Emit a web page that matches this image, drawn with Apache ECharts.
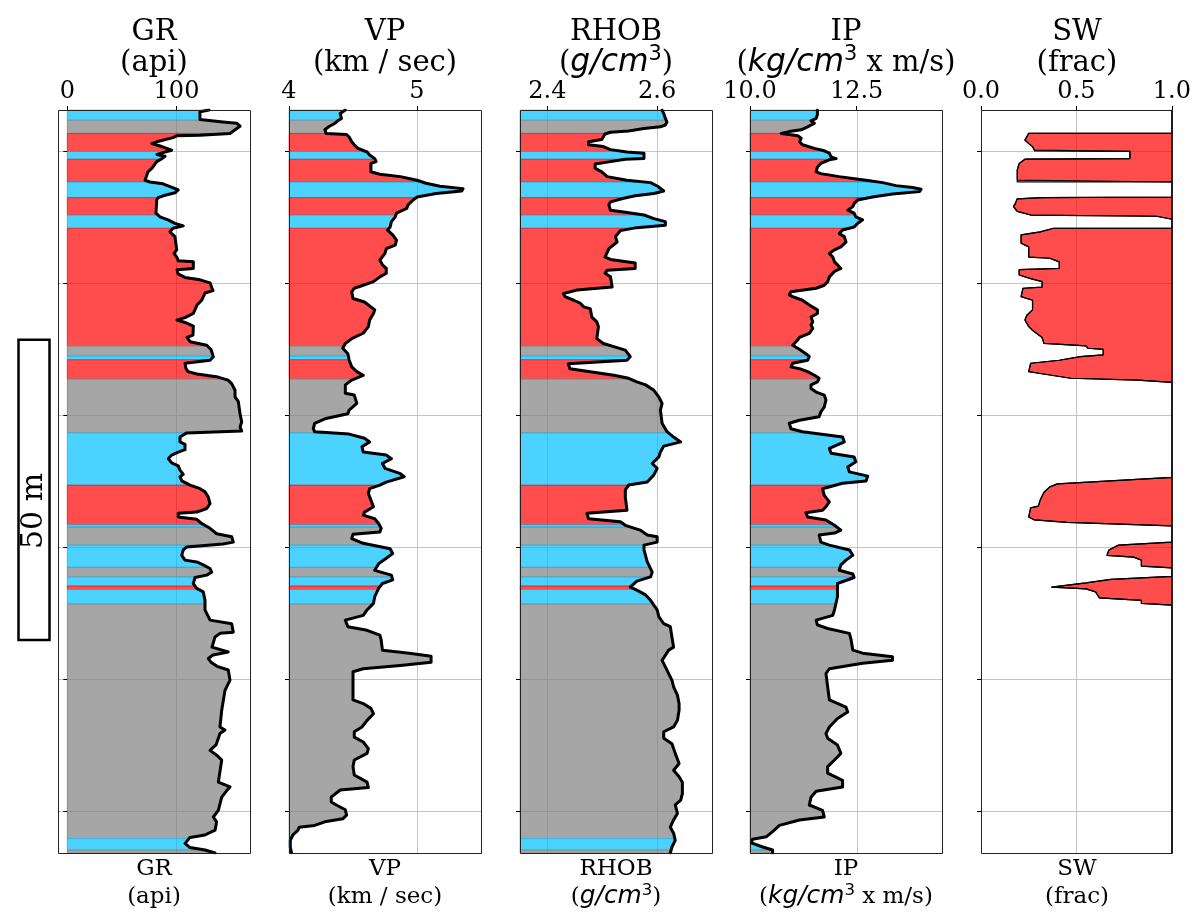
<!DOCTYPE html>
<html>
<head>
<meta charset="utf-8">
<title>Well log tracks</title>
<script src="https://cdn.jsdelivr.net/npm/echarts@6/dist/echarts.min.js"></script>
<style>
  html, body { margin: 0; padding: 0; background: #fff; }
  #chart { width: 1194px; height: 915px; }
</style>
</head>
<body>
<div id="chart"></div>
<script>
// ---- depth axis (m) ----
const DEPTH_RANGE = [1493.2, 1617.0];
const DEPTH_TICKS = [1500, 1522, 1544, 1566, 1588, 1610];
const SCALE_BAR_TOP = 1531.5;   // m
const SCALE_BAR_LEN = 50;       // m

// ---- facies intervals (top depth of each interval; B = blue, G = grey, R = red) ----
const FACIES_TOP = [1493.2, 1494.9, 1497.1, 1500.1, 1501.4, 1505.2, 1507.8, 1510.7, 1512.9, 1532.5,
                    1534.2, 1534.8, 1538.0, 1547.0, 1555.7, 1562.3, 1562.7, 1565.7, 1569.4, 1571.0,
                    1572.5, 1573.1, 1575.5, 1614.6, 1616.5];
const FACIES_CODE = ['B','G','R','B','R','B','R','B','R','G',
                     'B','R','G','B','R','B','G','B','G','B',
                     'R','B','G','B','G'];

// ---- GR (api) ----
const GR_DEPTH = [1493.2,1493.5,1494.8,1495.2,1495.4,1495.9,1496.5,1497.1,1497.4,1497.5,
  1497.8,1498.5,1498.8,1499.2,1499.6,1499.9,1500.3,1500.6,1500.9,1501.4,
  1501.8,1502.9,1503.5,1504.9,1505.2,1505.5,1506.1,1506.5,1507.0,1507.4,
  1507.8,1508.2,1510.4,1511.0,1511.5,1512.1,1512.5,1512.9,1513.5,1514.3,
  1516.5,1517.1,1517.8,1518.3,1518.5,1519.6,1519.8,1520.5,1521.1,1521.5,
  1522.0,1522.9,1523.3,1523.7,1524.9,1525.7,1527.1,1527.8,1528.2,1528.6,
  1529.2,1530.7,1531.1,1531.8,1532.4,1533.1,1534.3,1534.9,1535.4,1536.3,
  1536.8,1537.2,1537.7,1538.2,1538.8,1539.9,1541.0,1541.8,1543.8,1545.2,
  1546.0,1546.7,1547.0,1547.7,1548.5,1548.9,1549.8,1550.2,1550.7,1551.3,
  1552.0,1552.5,1553.2,1553.9,1554.3,1555.0,1555.7,1556.3,1556.8,1557.7,
  1558.8,1559.6,1560.2,1560.4,1561.0,1561.4,1562.1,1562.9,1563.8,1564.3,
  1565.2,1565.5,1566.0,1566.5,1567.4,1568.2,1568.5,1569.0,1569.6,1570.2,
  1570.7,1571.1,1572.1,1572.9,1573.5,1574.9,1576.5,1578.2,1578.8,1580.2,
  1580.4,1581.0,1582.7,1583.5,1584.0,1584.6,1585.2,1585.9,1586.5,1588.2,
  1589.9,1593.2,1596.0,1596.5,1597.1,1599.0,1599.9,1600.7,1601.5,1605.2,
  1606.0,1606.6,1607.7,1609.9,1611.0,1611.8,1613.2,1614.0,1614.4,1615.4,
  1616.1,1616.5,1617.0];
const GR_API = [129.8,121.5,121.5,142.6,155.1,158.2,153.6,149.0,121.5,100.2,
  96.8,81.9,77.3,84.9,91.0,95.6,87.6,82.1,89.5,85.8,
  81.9,77.6,73.9,71.2,75.7,87.6,95.9,101.6,98.6,89.5,
  83.1,81.9,81.2,84.9,92.2,98.6,106.2,96.8,94.0,98.6,
  100.2,97.7,100.5,101.6,115.4,115.4,100.5,101.4,107.8,121.5,
  130.7,132.5,133.4,126.1,123.1,118.8,115.4,107.8,100.5,107.8,
  115.4,115.1,109.6,112.4,127.7,131.6,133.7,130.7,107.8,108.7,
  110.5,118.8,138.0,147.2,150.5,153.6,153.6,156.6,158.2,159.7,
  158.2,159.7,109.3,103.2,103.2,107.8,107.8,101.6,95.6,92.5,
  95.6,101.6,103.2,106.2,103.2,104.8,112.4,121.5,126.1,129.1,
  130.7,127.7,118.5,101.6,101.6,118.5,123.1,130.7,136.8,150.5,
  152.0,142.6,109.3,106.2,104.8,107.8,118.5,124.5,130.7,132.2,
  127.7,116.9,115.4,118.5,124.5,126.1,126.1,130.7,150.5,152.0,
  139.8,135.3,132.5,147.4,133.4,129.1,131.6,137.1,147.4,149.0,
  144.4,141.4,139.8,144.4,139.8,136.2,130.7,136.8,141.4,138.3,
  149.0,146.0,141.4,138.3,133.7,136.8,135.3,126.1,112.4,107.8,
  112.4,126.1,135.3];

// ---- VP (km/s) ----
const VP_DEPTH = [1493.2,1493.8,1494.6,1495.0,1495.4,1496.0,1496.5,1497.1,1497.3,1497.7,
  1498.5,1499.0,1499.6,1500.2,1500.7,1501.3,1501.8,1502.1,1503.5,1503.9,
  1504.3,1504.9,1505.4,1505.9,1506.3,1506.7,1507.1,1507.7,1508.2,1509.0,
  1509.6,1510.4,1511.0,1511.8,1512.7,1513.2,1514.0,1514.9,1515.7,1516.3,
  1517.1,1518.2,1519.0,1519.6,1520.4,1521.0,1521.8,1522.4,1522.9,1523.5,
  1524.6,1525.2,1525.7,1526.5,1527.1,1528.2,1529.3,1530.4,1531.3,1532.1,
  1532.9,1533.8,1534.9,1536.0,1536.8,1537.4,1538.2,1539.0,1540.4,1540.7,
  1542.1,1543.2,1543.8,1544.6,1545.4,1546.3,1546.8,1547.2,1547.9,1548.5,
  1549.3,1550.2,1550.7,1551.3,1552.1,1552.9,1553.8,1554.3,1555.2,1555.7,
  1556.3,1557.1,1558.2,1559.3,1560.2,1560.7,1561.3,1562.1,1562.9,1563.5,
  1563.9,1564.6,1565.4,1566.3,1567.1,1567.9,1568.8,1569.9,1570.7,1571.5,
  1572.1,1572.9,1574.3,1575.4,1576.5,1577.4,1578.2,1579.3,1579.9,1580.7,
  1581.5,1583.2,1583.7,1584.2,1585.2,1585.7,1586.3,1586.8,1591.5,1592.1,
  1592.9,1593.8,1594.9,1596.0,1596.8,1597.7,1598.5,1599.6,1600.4,1601.5,
  1602.6,1604.0,1605.2,1606.1,1606.5,1607.7,1608.5,1609.0,1609.8,1610.7,
  1611.3,1611.8,1612.4,1612.7,1613.2,1614.0,1614.9,1616.0,1617.0];
const VP_KMS = [4.44,4.40,4.41,4.38,4.36,4.31,4.28,4.29,4.45,4.47,
  4.49,4.51,4.54,4.61,4.63,4.67,4.68,4.64,4.64,4.71,
  4.87,5.00,5.07,5.18,5.36,5.35,5.15,5.00,4.97,4.93,
  4.92,4.84,4.83,4.80,4.79,4.77,4.81,4.84,4.83,4.76,
  4.75,4.71,4.73,4.76,4.76,4.71,4.66,4.58,4.51,4.49,
  4.50,4.59,4.62,4.67,4.66,4.63,4.62,4.58,4.49,4.44,
  4.42,4.46,4.47,4.49,4.53,4.58,4.49,4.44,4.44,4.51,
  4.53,4.47,4.46,4.29,4.20,4.19,4.20,4.47,4.59,4.63,
  4.57,4.58,4.76,4.80,4.73,4.75,4.87,4.90,4.76,4.71,
  4.63,4.62,4.64,4.66,4.59,4.58,4.67,4.70,4.72,4.71,
  4.50,4.49,4.58,4.79,4.81,4.76,4.70,4.67,4.80,4.81,
  4.73,4.70,4.67,4.66,4.61,4.58,4.44,4.46,4.61,4.71,
  4.72,4.73,4.94,5.11,5.11,4.89,4.58,4.50,4.50,4.58,
  4.64,4.66,4.61,4.57,4.51,4.51,4.58,4.62,4.61,4.51,
  4.50,4.51,4.61,4.62,4.40,4.33,4.33,4.37,4.44,4.45,
  4.42,4.28,4.20,4.08,4.07,4.03,4.01,4.01,4.02];

// ---- RHOB (g/cm3) ----
const RHOB_DEPTH = [1493.2,1493.8,1494.6,1495.2,1495.7,1496.0,1496.3,1496.7,1496.9,1497.2,
  1498.1,1498.5,1499.0,1499.3,1499.8,1500.2,1500.4,1501.3,1501.4,1501.8,
  1502.2,1502.9,1503.5,1504.3,1504.9,1505.3,1505.9,1506.7,1507.1,1507.5,
  1507.9,1508.5,1509.0,1509.9,1510.2,1510.7,1511.3,1511.8,1512.4,1512.8,
  1513.3,1514.3,1515.2,1516.3,1517.7,1518.1,1518.7,1519.6,1519.9,1520.4,
  1521.0,1522.7,1523.2,1523.8,1524.3,1524.9,1525.4,1526.0,1526.3,1527.7,
  1528.5,1529.3,1531.3,1532.1,1532.7,1533.2,1534.3,1534.9,1535.5,1536.3,
  1536.8,1537.4,1537.9,1538.5,1539.0,1539.9,1541.0,1542.1,1543.2,1545.4,
  1546.8,1547.7,1548.5,1549.2,1550.2,1551.0,1552.1,1552.9,1554.0,1555.2,
  1555.7,1556.5,1557.7,1559.9,1560.4,1561.3,1561.8,1562.4,1563.2,1564.0,
  1564.3,1565.2,1565.7,1566.5,1568.5,1570.2,1571.0,1571.7,1572.7,1573.2,
  1574.0,1574.9,1576.5,1577.6,1578.8,1579.3,1582.7,1583.2,1584.9,1586.0,
  1587.1,1588.2,1589.3,1590.7,1592.1,1593.2,1594.9,1596.0,1596.8,1597.9,
  1598.8,1600.4,1602.1,1603.2,1604.3,1605.2,1607.1,1608.2,1609.0,1610.4,
  1611.5,1612.7,1613.7,1614.9,1616.0,1617.0];
const RHOB_GCC = [2.609,2.612,2.615,2.618,2.615,2.606,2.576,2.548,2.515,2.505,
  2.499,2.475,2.475,2.502,2.515,2.545,2.576,2.576,2.542,2.515,
  2.487,2.487,2.499,2.509,2.545,2.588,2.601,2.612,2.594,2.560,
  2.539,2.515,2.512,2.515,2.539,2.576,2.594,2.615,2.615,2.563,
  2.533,2.524,2.527,2.512,2.505,2.515,2.560,2.560,2.509,2.505,
  2.515,2.518,2.454,2.429,2.432,2.448,2.460,2.466,2.478,2.481,
  2.490,2.493,2.490,2.502,2.524,2.542,2.551,2.545,2.438,2.441,
  2.478,2.521,2.548,2.563,2.579,2.594,2.603,2.609,2.606,2.609,
  2.618,2.630,2.643,2.612,2.606,2.603,2.591,2.600,2.594,2.582,
  2.548,2.542,2.542,2.545,2.472,2.475,2.533,2.542,2.569,2.582,
  2.600,2.600,2.576,2.576,2.582,2.591,2.588,2.563,2.551,2.563,
  2.579,2.588,2.600,2.603,2.612,2.624,2.630,2.621,2.609,2.615,
  2.621,2.627,2.630,2.637,2.640,2.640,2.637,2.630,2.612,2.612,
  2.627,2.633,2.640,2.630,2.640,2.646,2.646,2.643,2.633,2.637,
  2.630,2.624,2.630,2.633,2.627,2.624];

// ---- IP (kg/cm3 x m/s) ----
const IP_DEPTH = [1493.2,1494.0,1494.6,1495.0,1495.4,1496.0,1496.5,1496.8,1497.1,1497.3,
  1497.5,1497.9,1498.5,1499.0,1499.6,1500.0,1500.4,1501.0,1501.3,1501.5,
  1502.1,1502.7,1503.5,1503.8,1504.3,1504.9,1505.3,1505.8,1506.1,1506.4,
  1506.8,1507.2,1507.7,1508.2,1508.8,1509.3,1509.9,1510.4,1511.0,1511.5,
  1512.1,1512.7,1513.2,1513.8,1514.3,1515.2,1516.0,1516.5,1517.1,1517.7,
  1518.5,1519.0,1519.6,1520.1,1521.0,1521.8,1522.4,1522.9,1523.5,1524.0,
  1524.3,1524.9,1525.7,1526.5,1527.1,1527.7,1528.5,1529.0,1529.6,1530.4,
  1531.1,1531.5,1532.4,1532.9,1533.8,1534.3,1534.9,1535.4,1536.0,1536.3,
  1536.8,1537.4,1537.9,1538.5,1539.0,1539.6,1540.2,1540.7,1541.5,1542.7,
  1543.5,1544.3,1544.9,1545.4,1546.3,1546.8,1547.4,1547.7,1548.5,1549.6,
  1550.4,1551.0,1551.8,1552.7,1553.5,1554.2,1555.0,1555.4,1556.3,1557.4,
  1558.5,1559.3,1559.9,1560.3,1561.0,1561.5,1562.4,1563.2,1563.7,1564.0,
  1565.2,1565.7,1566.5,1567.4,1568.2,1569.0,1569.9,1570.5,1571.1,1572.1,
  1574.3,1576.5,1577.4,1578.2,1579.0,1579.6,1580.4,1581.5,1583.2,1583.7,
  1584.3,1584.9,1585.4,1586.3,1587.1,1589.3,1591.5,1592.7,1593.5,1594.6,
  1596.0,1597.1,1597.9,1599.0,1600.4,1601.5,1602.6,1603.7,1604.9,1606.0,
  1606.7,1607.7,1609.0,1609.9,1611.0,1611.5,1612.4,1613.2,1614.3,1614.7,
  1615.3,1616.0,1616.5,1617.0];
const IP_VAL = [11.58,11.58,11.55,11.43,11.51,11.35,11.20,10.92,10.73,10.92,
  11.12,11.20,11.16,11.23,11.51,11.74,11.86,11.90,12.02,11.86,
  11.66,11.58,11.55,11.66,12.09,12.72,13.11,13.42,13.81,14.01,
  13.97,13.34,12.87,12.52,12.44,12.41,12.29,12.44,12.48,12.64,
  12.52,12.44,12.17,12.09,12.21,12.25,12.13,11.98,11.86,11.94,
  11.98,12.05,12.13,11.98,11.86,11.82,11.74,11.55,10.96,10.92,
  11.00,11.23,11.39,11.58,11.58,11.43,11.47,11.43,11.47,11.39,
  11.16,11.12,11.00,11.12,11.31,11.39,11.35,11.00,10.96,11.16,
  11.35,11.51,11.62,11.58,11.43,11.43,11.55,11.74,11.78,11.74,
  11.66,11.62,11.16,10.92,10.96,11.23,11.86,12.17,12.21,11.86,
  11.90,12.44,12.48,12.29,12.33,12.76,12.72,12.17,11.70,11.74,
  11.86,11.78,11.70,11.31,11.35,11.78,11.98,12.13,11.98,11.62,
  11.66,11.86,12.33,12.41,12.25,12.13,12.09,12.41,12.44,12.05,
  12.05,11.98,11.94,11.55,11.58,11.82,12.33,12.37,12.41,12.64,
  13.34,13.34,12.64,11.86,11.78,11.82,11.86,12.25,12.29,12.05,
  11.86,11.78,11.82,12.05,12.13,11.98,11.82,11.82,12.17,12.17,
  11.55,11.43,11.39,11.70,11.74,11.16,10.69,10.57,10.38,10.06,
  10.03,10.30,10.53,10.53];

// ---- SW (frac) ----
const SW_DEPTH = [1493.2,1497.1,1497.1,1498.2,1498.8,1499.3,1499.9,1500.0,1500.1,1501.3,
  1501.4,1502.1,1503.2,1504.9,1505.2,1505.2,1507.7,1507.8,1508.0,1508.75,
  1509.3,1510.1,1510.7,1510.9,1511.4,1512.9,1512.9,1513.5,1514.0,1515.4,
  1516.0,1517.7,1517.9,1518.5,1519.6,1519.8,1520.7,1521.3,1521.8,1522.7,
  1522.9,1524.3,1524.9,1525.4,1526.5,1527.4,1528.2,1529.3,1529.9,1530.4,
  1531.1,1532.1,1532.5,1532.9,1533.1,1534.0,1534.3,1534.9,1535.4,1536.8,
  1537.1,1537.9,1538.2,1538.6,1554.4,1555.5,1556.0,1556.9,1558.2,1559.2,
  1559.5,1561.0,1561.5,1561.9,1562.5,1565.2,1565.7,1566.5,1567.4,1567.7,
  1568.2,1569.2,1569.5,1570.9,1571.4,1572.0,1572.7,1573.0,1573.5,1574.5,
  1574.9,1575.4,1575.7,1617.0];
const SW_FRAC = [1.00,1.00,0.25,0.23,0.25,0.27,0.28,0.28,0.78,0.78,
  0.23,0.20,0.19,0.19,0.19,1.00,1.00,0.32,0.19,0.18,
  0.17,0.19,0.26,0.92,1.00,1.00,0.38,0.31,0.21,0.21,
  0.25,0.25,0.36,0.41,0.41,0.20,0.20,0.26,0.32,0.32,
  0.22,0.21,0.27,0.27,0.27,0.24,0.23,0.25,0.27,0.29,
  0.32,0.33,0.55,0.56,0.64,0.64,0.52,0.41,0.26,0.25,
  0.31,0.47,0.82,1.00,1.00,0.40,0.36,0.33,0.31,0.30,
  0.26,0.25,0.28,0.45,1.00,1.00,0.72,0.67,0.66,0.80,
  0.84,0.84,1.00,1.00,0.68,0.55,0.37,0.55,0.60,0.62,
  0.84,0.84,1.00,1.00];

// ---- axis limits and tick labels ----
const GR_RANGE = [-8.5, 167.3],  GR_TICKS = [0, 100];
const VP_RANGE = [4, 5.5],       VP_TICKS = [4, 5];
const RHOB_RANGE = [2.35, 2.70], RHOB_TICKS = [2.4, 2.6];
const IP_RANGE = [10, 14.5],     IP_TICKS = [10, 12.5];
const SW_RANGE = [0, 1],         SW_TICKS = [0, 0.5, 1];

// ---- styling ----
const SERIF = "'DejaVu Serif', 'Liberation Serif', serif";
const SANS = "'DejaVu Sans', sans-serif";
const FACIES_COLOR = { B: 'rgba(0,191,255,0.7)', G: 'rgba(128,128,128,0.7)', R: 'rgba(255,0,0,0.7)' };
const GRID_COLOR = '#c4c4c4';
const TRACK_LEFT = [58, 289, 520, 750, 981];
const TRACK_W = 192, TRACK_TOP = 110, TRACK_H = 743;

const TRACKS = [
  { title: 'GR',   unit: '(api)',                 depth: GR_DEPTH,   values: GR_API,   range: GR_RANGE,   ticks: GR_TICKS,   dec: 0, base: 0 },
  { title: 'VP',   unit: '(km / sec)',            depth: VP_DEPTH,   values: VP_KMS,   range: VP_RANGE,   ticks: VP_TICKS,   dec: 0, base: 4 },
  { title: 'RHOB', unit: '({m|g/cm}{s|3})',       depth: RHOB_DEPTH, values: RHOB_GCC, range: RHOB_RANGE, ticks: RHOB_TICKS, dec: 1, base: RHOB_RANGE[0] },
  { title: 'IP',   unit: '({m|kg/cm}{s|3} x m/s)', depth: IP_DEPTH,  values: IP_VAL,   range: IP_RANGE,   ticks: IP_TICKS,   dec: 1, base: 10 },
  { title: 'SW',   unit: '(frac)',                depth: SW_DEPTH,   values: SW_FRAC,  range: SW_RANGE,   ticks: SW_TICKS,   dec: 1, sw: true }
];

// curve points between two depths, with the ends interpolated on the band edges
function sliceCurve(depth, vals, d0, d1) {
  const at = d => {
    if (d <= depth[0]) return vals[0];
    for (let i = 1; i < depth.length; i++) {
      if (depth[i] >= d) {
        const span = depth[i] - depth[i - 1];
        const t = span > 0 ? (d - depth[i - 1]) / span : 1;
        return vals[i - 1] + t * (vals[i] - vals[i - 1]);
      }
    }
    return vals[vals.length - 1];
  };
  const pts = [[at(d0), d0]];
  depth.forEach((d, i) => { if (d > d0 && d < d1) pts.push([vals[i], d]); });
  pts.push([at(d1), d1]);
  return pts;
}

const grids = [], xAxes = [], yAxes = [], series = [];

TRACKS.forEach((t, k) => {
  grids.push({ left: TRACK_LEFT[k], top: TRACK_TOP, width: TRACK_W, height: TRACK_H, containLabel: false });

  xAxes.push({
    gridIndex: k, type: 'value', position: 'top', min: t.range[0], max: t.range[1],
    axisLine: { show: false },
    axisTick: { show: true, customValues: t.ticks, length: 4, lineStyle: { color: '#000', width: 1 } },
    axisLabel: { show: true, customValues: t.ticks, formatter: v => Number(v).toFixed(t.dec),
                 fontFamily: SERIF, fontSize: 24, color: '#000', margin: 6 },
    splitLine: { show: false }, z: 10
  });

  yAxes.push({
    gridIndex: k, type: 'value', inverse: true, min: DEPTH_RANGE[0], max: DEPTH_RANGE[1],
    axisLine: { show: false }, axisLabel: { show: false },
    axisTick: { show: true, customValues: DEPTH_TICKS, length: 4, lineStyle: { color: '#000', width: 1 } },
    splitLine: { show: false }, z: 10
  });

  // grid lines
  series.push({
    type: 'custom', xAxisIndex: k, yAxisIndex: k, z: 1, silent: true, animation: false,
    data: [[t.range[0], DEPTH_RANGE[0]]],
    renderItem: (params, api) => {
      const cs = params.coordSys;
      const children = [];
      t.ticks.forEach(v => {
        const x = Math.round(api.coord([v, DEPTH_RANGE[0]])[0]) + 0.5;
        children.push({ type: 'line', shape: { x1: x, y1: cs.y, x2: x, y2: cs.y + cs.height },
                        style: { stroke: GRID_COLOR, lineWidth: 1 } });
      });
      DEPTH_TICKS.forEach(d => {
        const y = Math.round(api.coord([t.range[0], d])[1]) + 0.5;
        children.push({ type: 'line', shape: { x1: cs.x, y1: y, x2: cs.x + cs.width, y2: y },
                        style: { stroke: GRID_COLOR, lineWidth: 1 } });
      });
      return { type: 'group', children };
    }
  });

  if (!t.sw) {
    // facies-coloured fill from the track base to the curve
    series.push({
      type: 'custom', xAxisIndex: k, yAxisIndex: k, z: 2, silent: true, animation: false,
      data: FACIES_TOP.map(d => [t.base, d]),
      renderItem: (params, api) => {
        const i = params.dataIndex;
        const d0 = FACIES_TOP[i];
        const d1 = i + 1 < FACIES_TOP.length ? FACIES_TOP[i + 1] : DEPTH_RANGE[1];
        const pts = sliceCurve(t.depth, t.values, d0, d1).map(p => api.coord(p));
        const points = [api.coord([t.base, d0])].concat(pts, [api.coord([t.base, d1])]);
        const c = FACIES_COLOR[FACIES_CODE[i]];
        return { type: 'polygon', shape: { points }, style: { fill: c, stroke: c, lineWidth: 0.8 } };
      }
    });
    series.push({
      type: 'line', xAxisIndex: k, yAxisIndex: k, z: 4, silent: true, animation: false,
      showSymbol: false, symbol: 'none',
      lineStyle: { color: '#000', width: 3, join: 'round', cap: 'round' },
      data: t.depth.map((d, i) => [t.values[i], d])
    });
  } else {
    // water saturation: fill between the curve and 1.0
    series.push({
      type: 'custom', xAxisIndex: k, yAxisIndex: k, z: 2, silent: true, animation: false,
      data: [[1, DEPTH_RANGE[0]]],
      renderItem: (params, api) => {
        const pts = t.depth.map((d, i) => api.coord([t.values[i], d]));
        const points = pts.concat([api.coord([1, DEPTH_RANGE[1]]), api.coord([1, DEPTH_RANGE[0]])]);
        return { type: 'polygon', shape: { points },
                 style: { fill: FACIES_COLOR.R, stroke: '#000', lineWidth: 1.2, lineJoin: 'round' } };
      }
    });
    series.push({
      type: 'line', xAxisIndex: k, yAxisIndex: k, z: 4, silent: true, animation: false,
      showSymbol: false, symbol: 'none', clip: false,
      lineStyle: { color: '#000', width: 1.2 },
      data: t.depth.map((d, i) => [t.values[i], d])
    });
  }

  // track frame
  series.push({
    type: 'custom', xAxisIndex: k, yAxisIndex: k, z: 6, silent: true, animation: false,
    data: [[t.range[0], DEPTH_RANGE[0]]],
    renderItem: (params) => {
      const cs = params.coordSys;
      return { type: 'rect', shape: { x: cs.x + 0.5, y: cs.y + 0.5, width: cs.width, height: cs.height },
               style: { fill: null, stroke: '#222', lineWidth: 1 } };
    }
  });
});

const chart = echarts.init(document.getElementById('chart'), null, { renderer: 'canvas' });
chart.setOption({
  backgroundColor: '#fff',
  animation: false,
  grid: grids, xAxis: xAxes, yAxis: yAxes, series: series
});

// titles above and below each track, plus the depth scale bar
function titleText(t, k, size, y1, y2) {
  const cx = TRACK_LEFT[k] + TRACK_W / 2;
  const rich = {
    m: { fontFamily: SANS, fontStyle: 'italic', fontSize: size * 1.08, lineHeight: size * 1.3 },
    s: { fontFamily: SANS, fontSize: size * 0.72, lineHeight: size * 0.72, verticalAlign: 'top' }
  };
  return [
    { type: 'text', x: cx, y: y1, silent: true,
      style: { text: t.title, fontFamily: SERIF, fontSize: size, fill: '#000', align: 'center', verticalAlign: 'middle' } },
    { type: 'text', x: cx, y: y2, silent: true,
      style: { text: t.unit, fontFamily: SERIF, fontSize: size, fill: '#000', align: 'center', verticalAlign: 'middle',
               lineHeight: size * 1.3, rich } }
  ];
}

const graphics = [];
TRACKS.forEach((t, k) => {
  graphics.push(...titleText(t, k, 29, 32, 63));
  graphics.push(...titleText(t, k, 23, 869, 897));
});

const yTop = chart.convertToPixel({ yAxisIndex: 0 }, SCALE_BAR_TOP);
const yBot = chart.convertToPixel({ yAxisIndex: 0 }, SCALE_BAR_TOP + SCALE_BAR_LEN);
graphics.push({
  type: 'rect', silent: true,
  shape: { x: 18.5, y: yTop, width: 31, height: yBot - yTop },
  style: { fill: '#fff', stroke: '#000', lineWidth: 2.5 }
});
graphics.push({
  type: 'text', silent: true, x: 34, y: yTop + (yBot - yTop) * 0.57, rotation: Math.PI / 2,
  style: { text: SCALE_BAR_LEN + ' m', fontFamily: SERIF, fontSize: 30, fill: '#000', align: 'center', verticalAlign: 'middle' }
});

chart.setOption({ graphic: graphics });
</script>
</body>
</html>
